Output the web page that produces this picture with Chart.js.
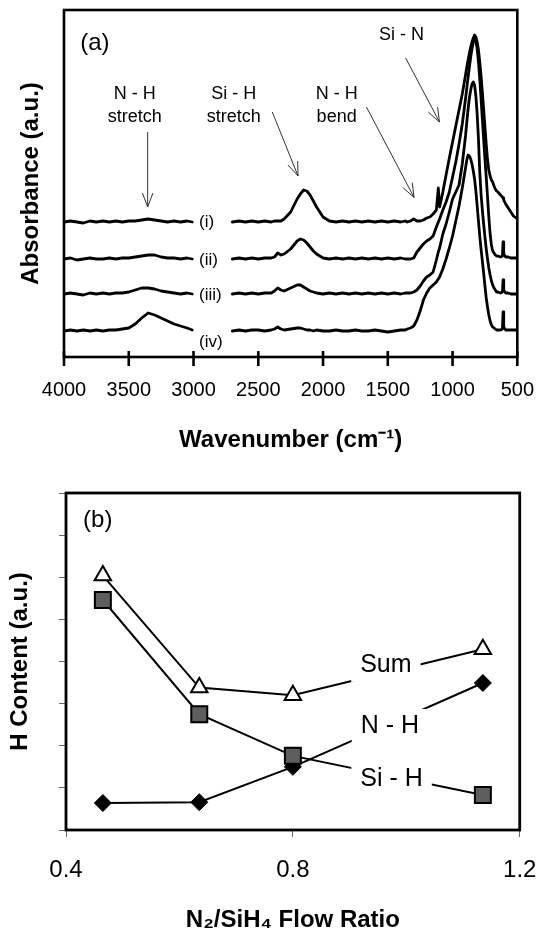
<!DOCTYPE html>
<html><head><meta charset="utf-8">
<script src="https://cdn.jsdelivr.net/npm/chart.js@4.4.1/dist/chart.umd.min.js"></script>
<style>
html,body{margin:0;padding:0;background:#fff;}
#wrap{position:relative;width:555px;height:935px;overflow:hidden;background:#fff;}
canvas{position:absolute;left:0;}
#c1{top:0;width:555px;height:470px;}
#c2{top:470px;width:555px;height:465px;}
</style></head><body>
<div id="wrap"><canvas id="c1" width="555" height="470"></canvas><canvas id="c2" width="555" height="465"></canvas></div>
<script>
const FONT = "'Liberation Sans', Arial, Helvetica, sans-serif";

// ---------- Panel (a): FTIR spectra ----------
const wavenumbers = [4000,3950,3900,3850,3800,3750,3700,3650,3600,3550,3500,3450,3400,3350,3300,3250,3200,3150,3100,3050,3010,
 2850,
 2700,2650,2600,2550,2500,2450,2400,2375,2350,2325,2300,2250,2200,2175,2150,2125,2100,2075,2050,
 2000,1950,1900,1850,1800,1750,1700,1650,1600,1550,1500,1450,1400,
 1365,1350,1325,1300,1275,1250,1225,1200,1175,1150,1125,1110,1100,1075,1050,1025,1000,975,950,925,
 900,890,880,870,860,850,840,830,820,810,800,790,780,770,760,750,740,730,720,710,700,690,680,670,660,650,
 630,615,610,605,590,570,550,530,510,500];

const traceLabels = ['(i)','(ii)','(iii)','(iv)'];
const traceOffsets = [1.35, 0.98, 0.63, 0.26];

const absI = [0,0.01,0,-0.01,0.01,0,0.01,0,0.01,0,0.01,0.01,0.02,0.03,0.02,0.01,0,0.01,0,0.01,0,
 null,
 0,0.01,0,0.01,0,0.01,0, 0.01,0.01,0.01,0.03, 0.10,0.23,0.28,0.32,0.31,0.27,0.21,0.15,
 0.05,0.01,0,0.01,0,0.01,0,0.01,0,0.01,0,0.01,0,
 0.01,0,0.01,0.03,0.01,0.01,0.02,0.04,0.05,0.08,0.12,0.34,0.15,0.30,0.47,0.64,0.80,0.96,1.12,1.28,
 1.47,1.55,1.62,1.69,1.75,1.80,1.84,1.87,1.85,1.80,1.72,1.60,1.46,1.30,1.13,0.95,0.78,0.62,0.52,0.46,0.42,0.40,0.36,0.33,0.31,0.30,
 0.27,0.25,0.24,0.22,0.18,0.14,0.10,0.06,0.04,0.03];

const absII = [0,0.01,-0.01,0,0.01,0,0,0.01,0,0.01,0.01,0.02,0.03,0.04,0.04,0.02,0.01,0.01,0,0.01,0,
 null,
 0,0.01,0,0.01,0,0.01,0.01, 0.02,0.06,0.04,0.05, 0.10,0.18,0.20,0.19,0.16,0.12,0.08,0.05,
 0.01,0,0.01,0,0.01,0,0.01,0,0.01,0,0.01,0,0.01,
 0,0,0,0.01,0.07,0.11,0.15,0.18,0.20,0.23,0.32,0.37,0.40,0.49,0.57,0.67,0.82,0.97,1.15,1.35,
 1.60,1.71,1.82,1.92,2.02,2.10,2.17,2.21,2.18,2.10,1.97,1.80,1.60,1.40,1.20,1.00,0.82,0.62,0.42,0.25,0.14,0.08,0.06,0.04,0.03,0.03,
 0.02,0.03,0.17,0.05,0.02,0.02,0.01,0.01,0.01,0.01];

const absIII = [0,0.01,0,-0.01,0.01,0,0.01,0,0.01,0.01,0.02,0.04,0.06,0.06,0.05,0.03,0.02,0.01,0,0.01,0,
 null,
 0,0.01,0,0.01,0,0.01,0.01, 0.03,0.06,0.04,0.03, 0.06,0.09,0.09,0.07,0.05,0.03,0.02,0.01,
 0,0.01,0,0.01,0,0.01,0,0.01,0,0.01,0,0.01,0,
 0.01,0.01,0.01,0.02,0.04,0.08,0.13,0.17,0.19,0.22,0.34,0.42,0.46,0.60,0.70,0.82,0.95,1.02,1.09,1.30,
 1.58,1.72,1.85,1.96,2.04,2.10,2.12,2.09,1.98,1.80,1.55,1.22,1.00,0.84,0.70,0.57,0.45,0.35,0.26,0.19,0.13,0.09,0.06,0.04,0.02,0.02,
 0.01,0.02,0.14,0.04,0.01,0.01,0,0,0,0.01];

const absIV = [0,0.01,0,0.01,0,0.01,0,0.01,0.01,0.02,0.03,0.07,0.13,0.18,0.16,0.13,0.10,0.07,0.05,0.03,0.01,
 null,
 0,0.01,0,0.01,0.01,0,0.01, 0.02,0.04,0.02,0.01, 0.02,0.03,0.03,0.02,0.01,0.01,0,0.01,
 0,0,0.01,0,0,0.01,0,0,0.01,0,-0.01,0,0.01,
 0.01,0.02,0.03,0.05,0.11,0.20,0.31,0.38,0.43,0.46,0.49,0.52,0.54,0.62,0.72,0.83,0.95,1.10,1.25,1.43,
 1.63,1.71,1.76,1.75,1.72,1.67,1.60,1.52,1.40,1.25,1.10,0.95,0.82,0.70,0.58,0.45,0.33,0.24,0.16,0.10,0.06,0.04,0.03,0.02,0.01,0.01,
 0.01,0.02,0.19,0.04,0.01,0.01,0.01,0.01,0.01,0.02];

const xTicksA = [4000,3500,3000,2500,2000,1500,1000,500];

// annotation texts / arrows for panel (a), placed in data units
const arrowsA = [
  {from:[3354,2.25], to:[3354,1.50]},
  {from:[2392,2.45], to:[2193,1.81]},
  {from:[1665,2.50], to:[1297,1.595]},
  {from:[1362,2.99], to:[1101,2.35]}
];
const notesA = [
  {text:'N - H', at:[3453,2.63]}, {text:'stretch', at:[3453,2.40]},
  {text:'Si - H', at:[2689,2.63]}, {text:'stretch', at:[2689,2.40]},
  {text:'N - H', at:[1895,2.63]}, {text:'bend', at:[1895,2.40]},
  {text:'Si - N', at:[1394,3.22]}
];
const traceLabelPos = [[2957,1.345],[2957,0.97],[2957,0.615],[2957,0.145]];

// ---------- Panel (b): H content ----------
const flowRatio = [0.465, 0.635, 0.80, 1.135];
const sumH = [6.04, 3.38, 3.20, 4.29];
const siH  = [5.46, 2.75, 1.76, 0.83];
const nH   = [0.64, 0.66, 1.50, 3.49];
const xTicksB = [0.4, 0.8, 1.2];
const seriesLabelsB = [
  {text:'Sum', at:[0.964, 3.92]},
  {text:'N - H', at:[0.971, 2.47]},
  {text:'Si - H', at:[0.974, 1.21]}
];

// ---------- build panel (a) ----------
const traces = [absI, absII, absIII, absIV];
const datasetsA = traces.map((t, k) => ({
  label: traceLabels[k],
  data: wavenumbers.map((w, i) => ({x: w, y: t[i] === null ? null : t[i] + traceOffsets[k]})),
  borderColor: '#000', borderWidth: 2.8, pointRadius: 0, tension: 0,
  spanGaps: false, fill: false, borderJoinStyle: 'round', borderCapStyle: 'round'
}));

function drawArrow(ctx, x1, y1, x2, y2) {
  const a = Math.atan2(y2 - y1, x2 - x1), L = 15, h = 0.36;
  ctx.beginPath();
  ctx.moveTo(x1, y1); ctx.lineTo(x2, y2);
  ctx.moveTo(x2 - L * Math.cos(a - h), y2 - L * Math.sin(a - h));
  ctx.lineTo(x2, y2);
  ctx.lineTo(x2 - L * Math.cos(a + h), y2 - L * Math.sin(a + h));
  ctx.stroke();
}

const annotA = {
  id: 'annotA',
  afterDatasetsDraw(chart) {
    const {ctx, chartArea: ca, scales: {x, y}} = chart;
    const X = v => x.getPixelForValue(v), Y = v => y.getPixelForValue(v);
    ctx.save();
    ctx.strokeStyle = '#000'; ctx.lineWidth = 2.6;
    ctx.strokeRect(ca.left, ca.top, ca.right - ca.left, ca.bottom - ca.top);
    xTicksA.forEach(v => {
      const px = X(v);
      ctx.beginPath(); ctx.moveTo(px, ca.bottom - 6); ctx.lineTo(px, ca.bottom + 9); ctx.stroke();
    });
    ctx.strokeStyle = '#333'; ctx.lineWidth = 1;
    arrowsA.forEach(a => drawArrow(ctx, X(a.from[0]), Y(a.from[1]), X(a.to[0]), Y(a.to[1])));
    ctx.fillStyle = '#000'; ctx.textAlign = 'center'; ctx.textBaseline = 'middle';
    ctx.font = `18px ${FONT}`;
    notesA.forEach(n => ctx.fillText(n.text, X(n.at[0]), Y(n.at[1])));
    ctx.font = `24px ${FONT}`;
    ctx.fillText('(a)', X(3762), Y(3.135));
    ctx.font = `17px ${FONT}`; ctx.textAlign = 'left';
    traceLabels.forEach((t, k) => ctx.fillText(t, X(traceLabelPos[k][0]), Y(traceLabelPos[k][1])));
    ctx.restore();
  }
};

new Chart(document.getElementById('c1'), {
  type: 'line',
  data: { datasets: datasetsA },
  options: {
    responsive: false, animation: false, devicePixelRatio: 1,
    layout: { padding: { top: 10, right: 21, bottom: 0, left: 0 } },
    plugins: { legend: { display: false }, tooltip: { enabled: false } },
    scales: {
      x: {
        type: 'linear', min: 500, max: 4000, reverse: true,
        afterBuildTicks: s => { s.ticks = xTicksA.map(v => ({value: v})); },
        ticks: { color: '#000', font: { family: FONT, size: 20 }, padding: 21, maxRotation: 0, autoSkip: false,
                 callback: v => String(v) },
        grid: { display: false, drawTicks: false }, border: { display: false },
        title: { display: true, text: 'Wavenumber (cm\u207B\u00B9)', color: '#000',
                 font: { family: FONT, size: 24, weight: 'bold' }, padding: { top: 0, bottom: 15.6 } },
        afterFit: s => { s.height = 113; }
      },
      y: {
        type: 'linear', min: 0, max: 3.47,
        ticks: { display: false }, grid: { display: false, drawTicks: false }, border: { display: false },
        title: { display: true, text: 'Absorbance (a.u.)', color: '#000',
                 font: { family: FONT, size: 24, weight: 'bold' }, padding: { top: 16.6, bottom: 0 } },
        afterFit: s => { s.width = 64; }
      }
    }
  },
  plugins: [annotA]
});

// ---------- build panel (b) ----------
const annotB = {
  id: 'annotB',
  afterDatasetsDraw(chart) {
    const {ctx, chartArea: ca, scales: {x, y}} = chart;
    const X = v => x.getPixelForValue(v), Y = v => y.getPixelForValue(v);
    ctx.save();
    ctx.textAlign = 'center'; ctx.textBaseline = 'middle';
    ctx.font = `25px ${FONT}`;
    seriesLabelsB.forEach(l => {
      const px = X(l.at[0]), py = Y(l.at[1]);
      const w = ctx.measureText(l.text).width;
      ctx.fillStyle = '#fff'; ctx.fillRect(px - w / 2 - 9, py - 17, w + 18, 34);
      ctx.fillStyle = '#000'; ctx.fillText(l.text, px, py);
    });
    ctx.font = `24px ${FONT}`;
    ctx.fillText('(b)', X(0.456), Y(7.36));
    ctx.strokeStyle = '#000'; ctx.lineWidth = 2.8;
    ctx.strokeRect(ca.left, ca.top, ca.right - ca.left, ca.bottom - ca.top);
    ctx.restore();
  }
};

const mk = (vals) => flowRatio.map((f, i) => ({x: f, y: vals[i]}));

new Chart(document.getElementById('c2'), {
  type: 'line',
  data: { datasets: [
    { label: 'Sum', data: mk(sumH), borderColor: '#000', borderWidth: 2, tension: 0,
      pointStyle: 'triangle', pointRadius: 9.5, pointBackgroundColor: '#fff', pointBorderColor: '#000', pointBorderWidth: 2 },
    { label: 'Si - H', data: mk(siH), borderColor: '#000', borderWidth: 2, tension: 0,
      pointStyle: 'rect', pointRadius: 11.3, pointBackgroundColor: '#5e5e5e', pointBorderColor: '#000', pointBorderWidth: 2 },
    { label: 'N - H', data: mk(nH), borderColor: '#000', borderWidth: 2, tension: 0,
      pointStyle: 'rectRot', pointRadius: 8.5, pointBackgroundColor: '#000', pointBorderColor: '#000', pointBorderWidth: 1 }
  ] },
  options: {
    responsive: false, animation: false, devicePixelRatio: 1,
    layout: { padding: { top: 23, right: 32, bottom: 0, left: 0 } },
    plugins: { legend: { display: false }, tooltip: { enabled: false } },
    scales: {
      x: {
        type: 'linear', min: 0.4, max: 1.2,
        afterBuildTicks: s => { s.ticks = xTicksB.map(v => ({value: v})); },
        ticks: { color: '#000', font: { family: FONT, size: 24 }, padding: 18.6, maxRotation: 0, autoSkip: false,
                 callback: v => Number(v).toFixed(1) },
        grid: { display: true, drawOnChartArea: false, drawTicks: true, tickLength: 7, color: '#666', lineWidth: 1 },
        border: { display: false },
        title: { display: true, text: 'N\u2082/SiH\u2084 Flow Ratio', color: '#000',
                 font: { family: FONT, size: 24, weight: 'bold' }, padding: { top: 0, bottom: 0 } },
        afterFit: s => { s.height = 105; }
      },
      y: {
        type: 'linear', min: 0, max: 8,
        ticks: { display: false, stepSize: 1 },
        grid: { display: true, drawOnChartArea: false, drawTicks: true, tickLength: 7, color: '#666', lineWidth: 1 },
        border: { display: false },
        title: { display: true, text: 'H Content (a.u.)', color: '#000',
                 font: { family: FONT, size: 24, weight: 'bold' }, padding: { top: 5.6, bottom: 0 } },
        afterFit: s => { s.width = 66; }
      }
    }
  },
  plugins: [annotB]
});
</script>
</body></html>
